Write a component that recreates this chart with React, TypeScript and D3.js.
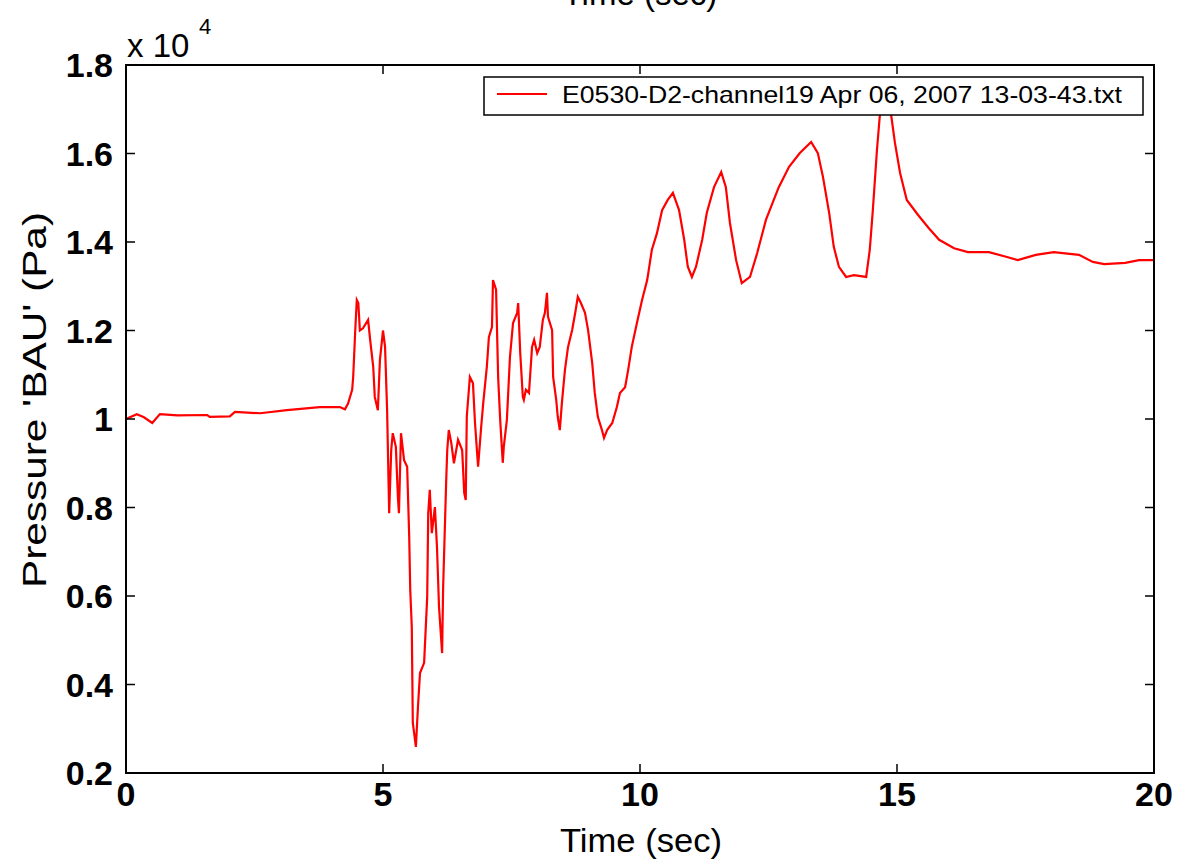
import React from "react";
import * as d3 from "d3";

const timeSec: number[] = [
  0, 0.21, 0.35, 0.51, 0.66, 1.0, 1.58, 1.63, 2.02, 2.12, 2.61, 3.13, 3.77, 4.16, 4.26, 4.32, 4.4, 4.42, 4.46, 4.49,
  4.52, 4.55, 4.61, 4.71, 4.75, 4.81, 4.84, 4.9, 4.94, 5.0, 5.04, 5.08, 5.12, 5.16, 5.19, 5.25, 5.29, 5.31, 5.35, 5.41,
  5.47, 5.51, 5.53, 5.56, 5.58, 5.64, 5.68, 5.72, 5.8, 5.86, 5.88, 5.91, 5.95, 6.01, 6.05, 6.09, 6.15, 6.17, 6.23, 6.25,
  6.28, 6.33, 6.38, 6.46, 6.54, 6.58, 6.61, 6.63, 6.69, 6.75, 6.79, 6.85, 6.91, 6.95, 7.02, 7.06, 7.12, 7.14, 7.2, 7.24,
  7.28, 7.33, 7.35, 7.41, 7.47, 7.53, 7.61, 7.63, 7.67, 7.72, 7.74, 7.78, 7.84, 7.9, 7.94, 8.0, 8.05, 8.11, 8.15, 8.19,
  8.21, 8.29, 8.31, 8.37, 8.4, 8.44, 8.48, 8.54, 8.6, 8.68, 8.74, 8.79, 8.85, 8.93, 8.99, 9.07, 9.12, 9.18, 9.26, 9.3,
  9.36, 9.46, 9.55, 9.61, 9.71, 9.77, 9.84, 9.94, 10.04, 10.14, 10.23, 10.33, 10.43, 10.54, 10.64, 10.76, 10.86, 10.93, 11.01, 11.09,
  11.21, 11.3, 11.44, 11.58, 11.67, 11.75, 11.87, 11.98, 12.14, 12.28, 12.45, 12.7, 12.9, 13.11, 13.33, 13.46, 13.56, 13.68, 13.77, 13.87,
  14.01, 14.16, 14.4, 14.47, 14.53, 14.61, 14.67, 14.79, 14.88, 14.96, 15.06, 15.19, 15.41, 15.62, 15.82, 16.11, 16.38, 16.79, 17.14, 17.35,
  17.7, 18.05, 18.54, 18.81, 19.03, 19.44, 19.71, 20.0,
];

const pressurePa: number[] = [
  10000, 10110, 10040, 9910, 10110, 10080, 10090, 10050, 10060, 10160, 10130, 10200, 10270, 10270, 10220, 10350, 10660, 10950, 12000, 12690,
  12620, 12000, 12050, 12240, 11790, 11180, 10500, 10200, 11330, 12000, 11630, 10200, 7870, 9300, 9680, 9370, 8240, 7870, 9680, 9070,
  8920, 7330, 6140, 5300, 3130, 2590, 3490, 4260, 4490, 5980, 7870, 8400, 7420, 8010, 7110, 5750, 4710, 6200, 8620, 9300,
  9750, 9450, 9000, 9530, 9300, 8330, 8170, 10050, 10950, 10810, 9910, 8920, 9820, 10360, 11180, 11850, 12080, 13140, 12920, 10950,
  9980, 9010, 9370, 9980, 11400, 12170, 12400, 12620, 11490, 10500, 10430, 10660, 10590, 11630, 11790, 11490, 11630, 12240, 12400, 12850,
  12310, 12010, 10950, 10430, 10050, 9750, 10360, 11110, 11630, 12010, 12400, 12760, 12620, 12400, 12010, 11270, 10590, 10050, 9750, 9570,
  9750, 9910, 10270, 10590, 10720, 11110, 11630, 12170, 12690, 13140, 13820, 14200, 14720, 14950, 15110, 14720, 14050, 13440, 13210, 13440,
  14050, 14660, 15240, 15580, 15240, 14430, 13590, 13070, 13210, 13750, 14500, 15240, 15700, 16010, 16260, 16010, 15470, 14660, 13890, 13440,
  13210, 13250, 13210, 13820, 14720, 16080, 16920, 17600, 16920, 16240, 15560, 14950, 14610, 14310, 14050, 13860, 13770, 13770, 13660, 13590,
  13710, 13770, 13710, 13550, 13500, 13530, 13590, 13590,
];

const xTicks: number[] = [0, 5, 10, 15, 20];
const yTicks: number[] = [2000, 4000, 6000, 8000, 10000, 12000, 14000, 16000, 18000];

const titleText = "Time (sec)";
const xLabel = "Time (sec)";
const yLabel = "Pressure 'BAU' (Pa)";
const legendText = "E0530-D2-channel19 Apr 06, 2007 13-03-43.txt";

const W = 1180;
const H = 865;
const left = 126;
const right = 1154;
const top = 65;
const bottom = 773;

export default function App() {
  const x = d3.scaleLinear().domain([0, 20]).range([left, right]);
  const y = d3.scaleLinear().domain([2000, 18000]).range([bottom, top]);
  const pts: [number, number][] = timeSec.map((t, i) => [t, pressurePa[i]]);
  const line = d3
    .line<[number, number]>()
    .x((d) => x(d[0]))
    .y((d) => y(d[1]));
  const path = line(pts) || "";
  const fmt = (v: number) => String(+(v / 1e4).toFixed(1));
  const tickLen = 9;
  const font = "'Liberation Sans', Arial, Helvetica, sans-serif";

  return (
    <div style={{ position: "absolute", left: 0, top: 0 }}>
      <svg width={W} height={H} viewBox={`0 0 ${W} ${H}`} style={{ display: "block", background: "#fff" }}>
        <defs>
          <clipPath id="plotClip">
            <rect x={left} y={top} width={right - left} height={bottom - top} />
          </clipPath>
        </defs>
        <rect x={0} y={0} width={W} height={H} fill="#fff" />
        {/* title (partly cut off at the top) */}
        <text x={640} y={5} textAnchor="middle" fontFamily={font} fontSize={33} fill="#000">
          {titleText}
        </text>
        {/* data line */}
        <path d={path} fill="none" stroke="#ff0000" strokeWidth={2.2} strokeLinejoin="miter" clipPath="url(#plotClip)" />
        {/* frame */}
        <rect x={left} y={top} width={right - left} height={bottom - top} fill="none" stroke="#000" strokeWidth={2} />
        {/* x ticks */}
        {xTicks.map((t) => (
          <g key={"xt" + t}>
            <line x1={x(t)} x2={x(t)} y1={bottom} y2={bottom - tickLen} stroke="#000" strokeWidth={1.5} />
            <line x1={x(t)} x2={x(t)} y1={top} y2={top + tickLen} stroke="#000" strokeWidth={1.5} />
            <text x={x(t)} y={806} textAnchor="middle" fontFamily={font} fontWeight="bold" fontSize={34} fill="#000">
              {t}
            </text>
          </g>
        ))}
        {/* y ticks */}
        {yTicks.map((v) => (
          <g key={"yt" + v}>
            <line x1={left} x2={left + tickLen} y1={y(v)} y2={y(v)} stroke="#000" strokeWidth={1.5} />
            <line x1={right} x2={right - tickLen} y1={y(v)} y2={y(v)} stroke="#000" strokeWidth={1.5} />
            <text x={113} y={y(v) + 12} textAnchor="end" fontFamily={font} fontWeight="bold" fontSize={34} fill="#000">
              {fmt(v)}
            </text>
          </g>
        ))}
        {/* exponent */}
        <text x={127} y={57} fontFamily={font} fontSize={33} fill="#000">
          x 10
        </text>
        <text x={199} y={34} fontFamily={font} fontSize={22} fill="#000">
          4
        </text>
        {/* axis labels */}
        <text x={641} y={852} textAnchor="middle" fontFamily={font} fontSize={34} fill="#000" textLength={162} lengthAdjust="spacingAndGlyphs">
          {xLabel}
        </text>
        <text
          transform={`translate(46, ${(212 + 588) / 2}) rotate(-90)`}
          textAnchor="middle"
          fontFamily={font}
          fontSize={34}
          fill="#000"
          textLength={376}
          lengthAdjust="spacingAndGlyphs"
        >
          {yLabel}
        </text>
        {/* legend */}
        <rect x={484} y={77} width={659} height={38} fill="#fff" stroke="#000" strokeWidth={1.5} />
        <line x1={497} x2={547} y1={94} y2={94} stroke="#ff0000" strokeWidth={2} />
        <text x={562} y={103} fontFamily={font} fontSize={24} fill="#000" textLength={560} lengthAdjust="spacingAndGlyphs">
          {legendText}
        </text>
      </svg>
    </div>
  );
}
